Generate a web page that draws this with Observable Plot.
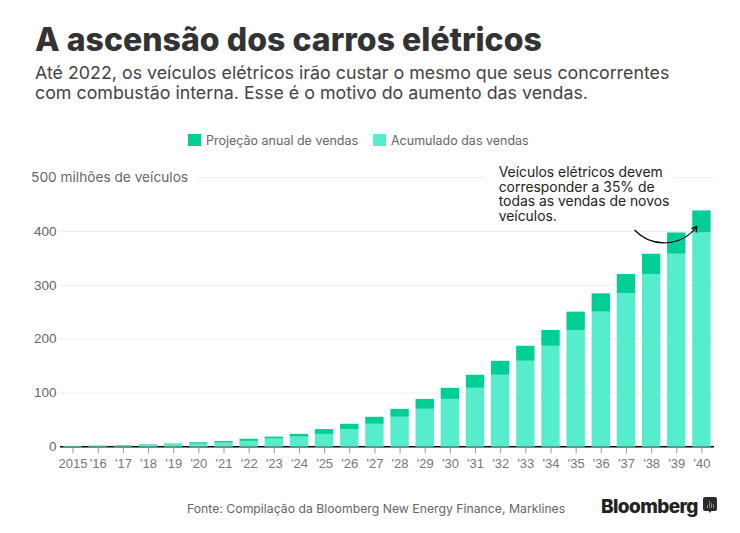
<!DOCTYPE html>
<html><head><meta charset="utf-8">
<script src="https://cdn.jsdelivr.net/npm/d3@7"></script>
<script src="https://cdn.jsdelivr.net/npm/@observablehq/plot@0.6"></script>
<style>
html,body{margin:0;padding:0;background:#fff;width:740px;height:533px;overflow:hidden;position:relative}
.t{position:absolute;white-space:nowrap;font-family:Inter,sans-serif}
#title{left:35px;top:20px;font-size:32px;font-weight:800;color:#333;letter-spacing:.03px;line-height:40px}
#sub{left:35px;top:63px;font-size:17.82px;color:#444;line-height:20px}
.sw{position:absolute;top:134px;width:13px;height:12px}
.lg{top:133px;font-size:12.5px;color:#666;line-height:15px}
#src{left:187px;top:501px;font-size:12.25px;color:#666;line-height:15px}
#logo{left:601px;top:495px;font-size:19px;font-weight:800;color:#222;letter-spacing:-.6px;line-height:24px}
#ico{position:absolute;left:703px;top:497px;width:14px;height:14px;background:#2a2a2a;border-radius:2px;display:flex;align-items:flex-end;justify-content:center;gap:1px;padding-bottom:3px;box-sizing:border-box}
#ico i{display:block;width:1px;background:#888}
#ico:after{content:"";position:absolute;left:5px;top:13px;border:2px solid transparent;border-top:3px solid #2a2a2a}
#chart{position:absolute;left:0;top:160px}
</style></head><body>
<div class="t" id="title">A ascensão dos carros elétricos</div>
<div class="t" id="sub">Até 2022, os veículos elétricos irão custar o mesmo que seus concorrentes<br>com combustão interna. Esse é o motivo do aumento das vendas.</div>
<div class="sw" style="left:188px;background:#00CF95"></div>
<div class="t lg" style="left:206px">Projeção anual de vendas</div>
<div class="sw" style="left:373px;background:#55EDCB"></div>
<div class="t lg" style="left:391px">Acumulado das vendas</div>
<div id="chart"></div>
<div class="t" id="src">Fonte: Compilação da Bloomberg New Energy Finance, Marklines</div>
<div class="t" id="logo">Bloomberg</div>
<div id="ico"><i style="height:3px"></i><i style="height:7px"></i><i style="height:5px"></i><i style="height:4px"></i></div>
<script>
const years = d3.range(2015, 2041);
const accumulated = [0.3,0.7,1.3,2.2,3.5,5,7,10,14.5,18,23,32,41.8,54.8,69.6,88,108.6,132.8,158.8,186.6,216,250,284,320,357.5,397];
const totals = [0.7,1.3,2.2,3.5,5,7.5,10,14,18,23,32,41.8,54.8,69.6,88,108.6,132.8,158.8,186.6,216,250,284,320,357.5,397,438];
const gridValues = [100,200,300,400];
const yTicks = [0,100,200,300,400];
const note = "Veículos elétricos devem\ncorresponder a 35% de\ntodas as vendas de novos\nveículos.";
const unitLabel = "500 milhões de veículos";

const rows = years.map((year,i)=>({year,low:accumulated[i],high:totals[i]}));
const half = 0.365;

const plot = Plot.plot({
  width:740,height:320,
  marginTop:17,marginBottom:33.7,marginLeft:60,marginRight:26,
  x:{type:"linear",domain:[2014.5,2040.5]},
  y:{domain:[0,500]},
  style:{background:"transparent",fontFamily:"'Liberation Sans',sans-serif"},
  marks:[
    Plot.ruleY(gridValues,{stroke:"#eee",strokeWidth:1}),
    Plot.ruleY([500],{x1:2019.94,x2:2031.4,stroke:"#eee"}),
    Plot.ruleY([500],{x1:2038.93,x2:2040.5,stroke:"#eee"}),
    Plot.ruleY([0],{stroke:"#000",strokeWidth:1.5}),
    Plot.rectY(rows,{x1:d=>d.year-half,x2:d=>d.year+half,y1:0,y2:"low",fill:"#55EDCB",inset:0}),
    Plot.rectY(rows,{x1:d=>d.year-half,x2:d=>d.year+half,y1:"low",y2:"high",fill:"#00CF95",inset:0}),
    Plot.ruleY(rows,{y:()=>0,x1:d=>d.year-half,x2:d=>d.year+half,stroke:"#55a58f",strokeWidth:1.5}),
    Plot.axisX({ticks:years,tickFormat:d=>d===2015?"2015":"'"+String(d).slice(2),label:null,tickSize:7,tickPadding:5,stroke:"#999",color:"#777",fontSize:13,anchor:"bottom"}),
    Plot.axisY({ticks:yTicks,tickSize:0,tickPadding:4,label:null,color:"#666",fontSize:13.5,anchor:"left"}),
    Plot.text([unitLabel],{x:()=>2013.33,y:()=>500,text:d=>d,textAnchor:"start",fontSize:13.7,fontFamily:"Inter,sans-serif",fill:"#666"}),
    Plot.text([note],{x:()=>2031.92,y:()=>520,text:d=>d,textAnchor:"start",lineAnchor:"top",fontSize:13.9,lineHeight:1.05,fontFamily:"Inter,sans-serif",fill:"#222"}),
    Plot.arrow([{a:2037.33,b:402,c:2039.8,d:409.5}],{x1:"a",y1:"b",x2:"c",y2:"d",bend:-50,stroke:"#000",strokeWidth:1.2,headLength:7})
  ]
});
document.getElementById("chart").append(plot);
</script>
</body></html>
